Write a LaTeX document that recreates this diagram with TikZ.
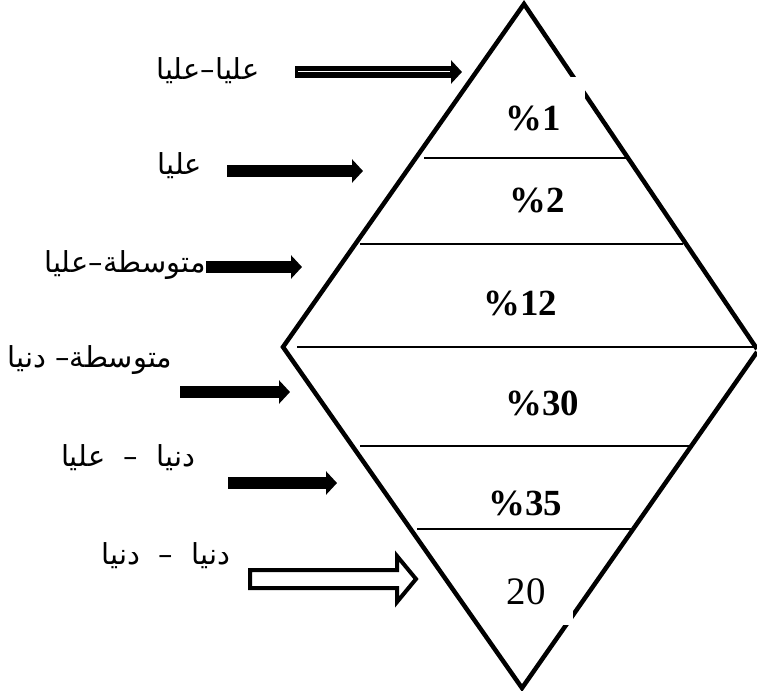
\documentclass[tikz,border=0pt]{standalone}
\usepackage{fontspec}
\setmainfont{Liberation Serif}
\newfontfamily\arabicfont[Script=Arabic]{DejaVu Sans}
\TeXXeTstate=1
\usetikzlibrary{arrows.meta}

\begin{document}
\begin{tikzpicture}[x=1bp, y=-1bp,
  edge/.style={line width=4.5bp, line join=miter},
  band/.style={line width=1.6bp},
  pct/.style={font=\fontsize{37}{37}\selectfont\bfseries, inner sep=0pt},
  lab/.style={font=\arabicfont\fontsize{29}{29}\selectfont, inner sep=0pt},
  fat/.style={line width=11.5bp, -{Triangle[length=11bp, width=23bp]}}]

\useasboundingbox (0,0) rectangle (757,691);

% Diamond (upper and lower triangles)
\draw[edge] (757,349) -- (524,4) -- (283,347) -- (522,688) -- (757,352);

% Bands
\draw[band] (424,158) -- (626,158);
\draw[band] (360,244) -- (683,244);
\draw[band] (297,347) -- (757,347);
\draw[band] (360,446) -- (692,446);
\draw[band] (417,529) -- (632,529);

% small breaks in the outline
\fill[white] (570,77) rectangle (585,100);
\fill[white] (556,605) rectangle (573,625);

% Shares
\node[pct] (p1) at (533,118) {\%1};
\node[pct] (p2) at (537,200) {\%2};
\node[pct] (p3) at (520,303) {\%12};
\node[pct] (p4) at (542,403) {\%30};
\node[pct] (p5) at (525,503) {\%35};
\node[font=\fontsize{39}{39}\selectfont, inner sep=0pt] (p6) at (526,592) {20};

% Class labels
\node[lab] (l1) at (208,71) {\beginR عليا–عليا\endR};
\node[lab] (l2) at (180,166) {\beginR عليا\endR};
\node[lab] (l3) at (125,265) {\beginR متوسطة–عليا\endR};
\node[lab] (l4) at (90,360) {\beginR متوسطة– دنيا\endR};
\node[lab] (l5) at (128,458) {\beginR دنيا\ \ –\ \ عليا\endR};
\node[lab] (l6) at (166,556) {\beginR دنيا\ \ –\ \ دنيا\endR};

% Arrow ends
\coordinate (a1s) at (295,72);  \coordinate (a1e) at (462,72);
\coordinate (a2s) at (227,171); \coordinate (a2e) at (363,171);
\coordinate (a3s) at (206,267); \coordinate (a3e) at (302,267);
\coordinate (a4s) at (180,392); \coordinate (a4e) at (290,392);
\coordinate (a5s) at (228,483); \coordinate (a5e) at (337,483);
\coordinate (a6s) at (250,579); \coordinate (a6e) at (416,579);

% Arrows
\draw[fat] (a1s) -- (a1e);
\draw[white, line width=1bp] ([xshift=3bp]a1s) -- ([xshift=-12bp]a1e);
\draw[fat] (a2s) -- (a2e);
\draw[fat] (a3s) -- (a3e);
\draw[fat] (a4s) -- (a4e);
\draw[fat] (a5s) -- (a5e);

% hollow arrow
\draw[line width=4bp, line join=miter]
  ([yshift=9bp]a6s) -- ++(147,0) -- ++(0,-14) -- (a6e) -- ++(-19,23)
  -- ++(0,-14) -- ([yshift=-9bp]a6s) -- cycle;

\end{tikzpicture}
\end{document}
